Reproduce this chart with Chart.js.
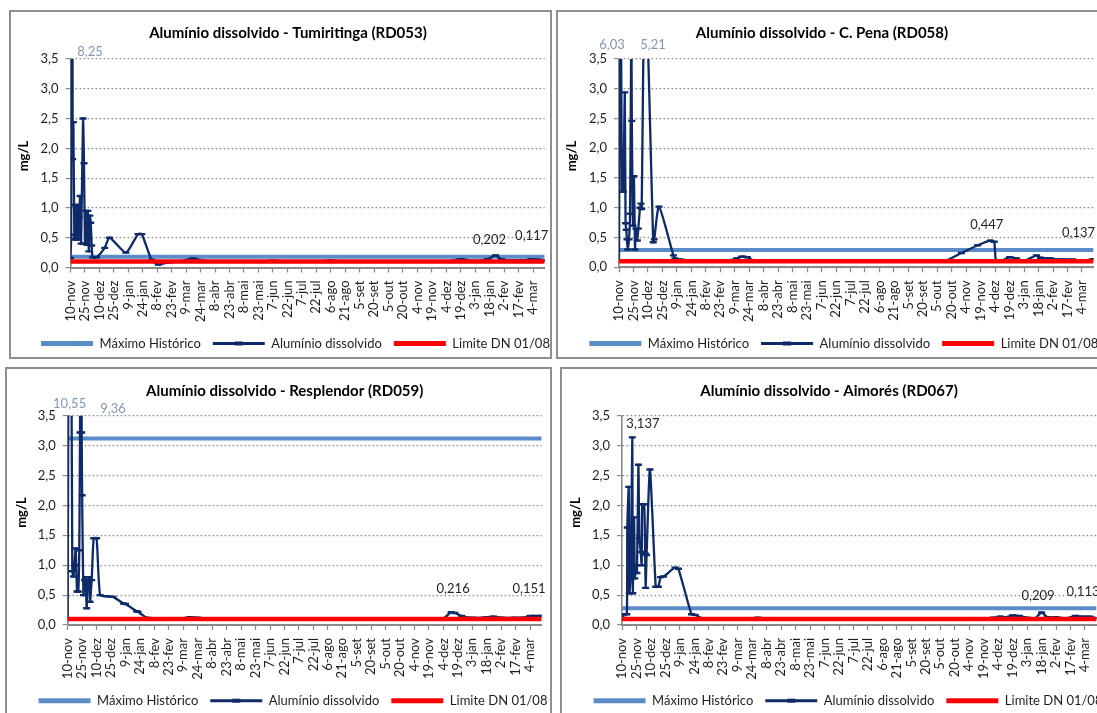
<!DOCTYPE html>
<html><head><meta charset="utf-8">
<script src="https://cdn.jsdelivr.net/npm/chart.js@4.4.1/dist/chart.umd.min.js"></script>
<style>
html,body{margin:0;padding:0;background:#fff;}
body{width:1097px;height:713px;overflow:hidden;position:relative;}
.frame{position:absolute;border:2px solid #8f8f8f;box-sizing:border-box;}
canvas{position:absolute;}
</style></head><body>
<div class="frame" style="left:9px;top:10px;width:543px;height:349px"></div>
<div class="frame" style="left:556px;top:10px;width:560px;height:349px"></div>
<div class="frame" style="left:5px;top:367px;width:547px;height:360px"></div>
<div class="frame" style="left:560px;top:367px;width:560px;height:360px"></div>
<canvas id="c1"></canvas>
<canvas id="c2"></canvas>
<canvas id="c3"></canvas>
<canvas id="c4"></canvas>
<script>
// ---------- DATA (x = days since 10-nov-2015) ----------
const tickLabels = ['10-nov','25-nov','10-dez','25-dez','9-jan','24-jan','8-fev','23-fev','9-mar','24-mar','8-abr','23-abr','8-mai','23-mai','7-jun','22-jun','7-jul','22-jul','6-ago','21-ago','5-set','20-set','5-out','20-out','4-nov','19-nov','4-dez','19-dez','3-jan','18-jan','2-fev','17-fev','4-mar'];
const tickDays = [0,15,30,45,60,75,90,105,120,135,150,165,180,195,210,225,240,255,270,285,300,315,330,345,360,375,390,405,420,435,450,465,480];
const axisEndDay = 492;
const limiteDN = 0.1;
const yAxisTitle = 'mg/L';

const tumTitle = 'Alumínio dissolvido - Tumiritinga (RD053)';
const tumMax = 0.18;
const tumDays = [0,0.7,1.5,2.3,3,4,5,6,7,8,9,10,11,13,14,15,16,17,18,19,20,21,22,23,27,35.5,40.5,57.5,70,74,84,91,100,112,127,140,155,170,185,200,210,225,240,255,270,285,300,315,330,345,360,375,390,405,420,433,441,447,455,462,470,478,485,492];
const tumVals = [0.16,0.55,8.25,1.82,2.44,0.47,1.05,0.5,1.05,0.47,0.85,1.2,0.4,2.5,1.75,0.4,0.95,0.38,0.95,0.27,0.87,0.75,0.37,0.17,0.17,0.33,0.5,0.25,0.56,0.56,0.13,0.05,0.08,0.1,0.15,0.11,0.1,0.1,0.1,0.1,0.12,0.1,0.1,0.1,0.12,0.1,0.1,0.1,0.1,0.1,0.1,0.1,0.1,0.14,0.11,0.14,0.202,0.14,0.12,0.12,0.12,0.14,0.13,0.117];

const penaTitle = 'Alumínio dissolvido - C. Pena (RD058)';
const penaMax = 0.29;
const penaDays = [0,1.5,3,4.5,6,6.8,7.5,8.2,9,10.4,11.5,12.8,13.3,14.5,15.5,16.6,17.5,19,20,21.8,22.8,23.5,27,35.5,36.5,41.5,56.4,58,63,72,85,100,115,122,127,133,140,155,170,185,200,215,230,245,260,275,290,305,320,337,355,372,385,389,391,398,405,412,420,433,437,441,447,455,462,470,477,484,492];
const penaVals = [0.1,6.03,1.27,1.27,2.94,0.74,0.63,0.47,0.3,0.47,0.9,4.2,2.46,0.7,1.53,0.3,0.65,0.45,0.65,1.0,1.07,0.98,5.21,0.42,0.47,1.02,0.2,0.15,0.13,0.12,0.1,0.1,0.12,0.15,0.18,0.17,0.11,0.1,0.1,0.1,0.1,0.1,0.1,0.1,0.1,0.1,0.1,0.1,0.1,0.1,0.24,0.37,0.447,0.43,0.11,0.12,0.17,0.15,0.11,0.2,0.16,0.15,0.15,0.13,0.13,0.13,0.12,0.12,0.137];

const respTitle = 'Alumínio dissolvido - Resplendor (RD059)';
const respMax = 3.12;
const respDays = [0,2,4.8,6,7,8.3,9.7,11,12,12.8,13.8,14.5,15,16.3,17.5,18.5,19.7,21,22.5,23.2,24.9,27,30,33.6,40.5,47,57.8,60,71.6,73,82,90,100,115,127,135,150,170,190,210,230,250,270,290,310,330,340,360,380,390,398,402,409,420,435,442,450,464,472,480,486,492];
const respVals = [0.1,10.55,0.9,0.81,1.0,1.28,0.56,0.56,1.25,3.22,9.36,3.22,2.17,0.5,0.75,0.8,0.28,0.75,0.8,0.39,0.75,1.45,1.45,0.5,0.48,0.47,0.36,0.35,0.23,0.22,0.12,0.1,0.1,0.1,0.13,0.12,0.1,0.1,0.1,0.1,0.1,0.1,0.1,0.1,0.1,0.11,0.1,0.1,0.1,0.11,0.216,0.2,0.15,0.12,0.13,0.14,0.12,0.12,0.12,0.15,0.15,0.151];

const aimTitle = 'Alumínio dissolvido - Aimorés (RD067)';
const aimMax = 0.28;
const aimDays = [0,2,5,5.5,7,7.6,9,10.7,11.2,12.5,13.3,14.5,15.5,17,18,19.4,20.4,21,23,24,24.5,25.5,29,35,37.7,40,43,55,58.5,72,75.8,85,100,120,141,160,190,220,250,280,310,340,370,385,392,398,405,412,420,428,435,441,450,460,470,478,485,492];
const aimVals = [0.12,0.18,0.18,1.63,2.31,0.53,0.82,3.137,0.53,1.8,0.78,1.0,0.87,2.68,1.45,1.22,1.0,2.02,2.02,1.2,0.62,1.17,2.6,0.64,0.64,0.8,0.81,0.96,0.94,0.18,0.17,0.1,0.1,0.1,0.12,0.1,0.1,0.1,0.1,0.1,0.1,0.11,0.1,0.12,0.14,0.13,0.16,0.15,0.12,0.11,0.209,0.13,0.13,0.11,0.15,0.14,0.14,0.113];

const legendNames = ['Máximo Histórico','Alumínio dissolvido','Limite DN 01/08'];

// labelled points (by day) – offsets are styling
const tumLabelDays = [1.5, 441, 492];
const penaLabelDays = [1.5, 27, 385, 492];
const respLabelDays = [2, 13.8, 398, 492];
const aimLabelDays = [10.7, 435, 492];

// ---------- STYLE ----------
const FONT = 'Lato, "Open Sans", sans-serif';
const C_MAX = '#5b8cc8', C_AL = '#0e2a68', C_LIM = '#ff0000';
const GRID = '#8a8a8a';
const TXT = '#1e1e1e';
const TITLE_SIZE = 15, TICK_SIZE = 13;
const LEG_PAD = 12, LEG_BOX = 52, LEG_FONT = 13;

const layouts = {
  c1: {left:12, top:12, width:545, plotLeft:70.5, plotTop:59, plotBottom:267.5, titleX:288, titleY:33, legendX:295.5, legendY:343.5, yTitleX:23.5, yTitleY:156,
       labelOffsets:[[18,-7],[-6,-15.5],[-13,-25]]},
  c2: {left:559, top:12, width:547, plotLeft:619, plotTop:59, plotBottom:267.3, titleX:822, titleY:33, legendX:843.8, legendY:343.5, yTitleX:571.6, yTitleY:156,
       labelOffsets:[[-8.5,-14],[8,-14],[-3.5,-15.7],[-15,-26.4]]},
  c3: {left:8, top:369, width:546, plotLeft:67.7, plotTop:415.7, plotBottom:625, titleX:284.7, titleY:391.3, legendX:293, legendY:700.7, yTitleX:21.7, yTitleY:512.5,
       labelOffsets:[[0,-11.7],[32,-7],[2,-23],[-12.7,-26.7]]},
  c4: {left:563, top:369, width:546, plotLeft:622, plotTop:415.7, plotBottom:625, titleX:829, titleY:391, legendX:848, legendY:700.7, yTitleX:576, yTitleY:512.5,
       labelOffsets:[[10.6,-13.4],[-3.6,-16.5],[-13.6,-26.6]]}
};

const fmt = v => String(v).replace('.', ',');

const shiftPlugin = {
  id: 'shiftBoxes',
  afterLayout(chart, args, o) {
    const shift = (b, cx) => { if (!b) return; const dx = cx - o.left - (b.left + b.right) / 2; b.left += dx; b.right += dx; };
    shift(chart.titleBlock, o.titleX);
    shift(chart.legend, o.legendX);
  },
  afterDraw(chart, args, o) {
    const ctx = chart.ctx;
    // y axis title (Excel places it slightly above the plot centre)
    ctx.save();
    ctx.translate(o.yTitleX - o.left, o.yTitleY - o.top);
    ctx.rotate(-Math.PI / 2);
    ctx.font = 'bold 13px ' + FONT;
    ctx.fillStyle = '#000';
    ctx.textAlign = 'center';
    ctx.textBaseline = 'middle';
    ctx.fillText(o.yTitle, 0, 0);
    ctx.restore();
    // dash marker in the middle of the "Alumínio dissolvido" legend line
    const lg = chart.legend;
    if (lg && lg.lineWidths) {
      ctx.save();
      ctx.font = LEG_FONT + 'px ' + FONT;
      const x0 = (lg.left + LEG_PAD + lg.right - lg.lineWidths[0]) / 2;
      const w1 = LEG_BOX + LEG_FONT / 2 + ctx.measureText(legendNames[0]).width + LEG_PAD;
      const cx = x0 + w1 + LEG_BOX / 2;
      const cy = lg.top + LEG_PAD + LEG_FONT / 2;
      ctx.fillStyle = C_AL;
      ctx.fillRect(cx - 4, cy - 2, 8, 4);
      ctx.restore();
    }
  }
};

const labelPlugin = {
  id: 'pointLabels',
  afterDatasetsDraw(chart, args, o) {
    const ds = chart.data.datasets[1];
    const meta = chart.getDatasetMeta(1);
    const ctx = chart.ctx, area = chart.chartArea, yMax = chart.scales.y.max;
    ctx.save();
    ctx.font = '13px ' + FONT;
    ctx.textAlign = 'center';
    ctx.textBaseline = 'middle';
    o.days.forEach((d, k) => {
      const idx = ds.data.findIndex(p => p.x === d);
      if (idx < 0) return;
      const el = meta.data[idx];
      const v = ds.data[idx].y;
      const over = v > yMax;
      const off = o.offsets[k];
      ctx.fillStyle = over ? '#8497b0' : '#262626';
      ctx.fillText(fmt(v), el.x + off[0], (over ? area.top : el.y) + off[1]);
    });
    ctx.restore();
  }
};

function makeChart(id, title, maxVal, days, vals, labelDays) {
  const L = layouts[id];
  const lhT = TITLE_SIZE * 1.2;
  const itemH = LEG_FONT;
  const legendTop = L.legendY - LEG_PAD - itemH / 2;
  const exactH = legendTop + itemH + LEG_PAD + 10 - L.top;
  const H = Math.ceil(exactH);
  const cv = document.getElementById(id);
  cv.width = L.width; cv.height = H;
  cv.style.left = L.left + 'px'; cv.style.top = L.top + 'px';
  const titlePadTop = L.titleY - L.top - lhT / 2;
  const titlePadBottom = L.plotTop - L.top - titlePadTop - lhT;
  const xH = legendTop - L.plotBottom;
  const yW = L.plotLeft - L.left;
  const plotRight = L.plotLeft + axisEndDay * 0.9645;
  const padR = L.left + L.width - plotRight;

  new Chart(cv, {
    type: 'line',
    data: {
      datasets: [
        {label: legendNames[0], data: [{x:0, y:maxVal}, {x:axisEndDay, y:maxVal}], borderColor: C_MAX, backgroundColor: C_MAX, borderWidth: 4, pointRadius: 0, order: 2, legendLW: 5},
        {label: legendNames[1], data: days.map((d, i) => ({x: d, y: vals[i]})), borderColor: C_AL, backgroundColor: C_AL, borderWidth: 2.3, tension: 0.2,
         pointStyle: 'line', pointRadius: 3.5, pointBorderWidth: 2.4, pointBorderColor: C_AL, pointHoverRadius: 3.5, order: 1, legendLW: 3},
        {label: legendNames[2], data: [{x:0, y:limiteDN}, {x:axisEndDay, y:limiteDN}], borderColor: C_LIM, backgroundColor: C_LIM, borderWidth: 4.5, pointRadius: 0, order: 0, legendLW: 5}
      ]
    },
    options: {
      responsive: false, animation: false, events: [],
      layout: {padding: {left: 0, right: padR, top: 0, bottom: H - exactH}},
      plugins: {
        title: {display: true, text: title, color: '#000', font: {family: FONT, size: TITLE_SIZE, weight: 'bold', lineHeight: 1.2}, padding: {top: titlePadTop, bottom: titlePadBottom}},
        legend: {display: true, position: 'bottom',
          labels: {usePointStyle: true, pointStyleWidth: LEG_BOX, padding: LEG_PAD, color: TXT, font: {family: FONT, size: LEG_FONT},
            sort: (a, b) => a.datasetIndex - b.datasetIndex,
            generateLabels: chart => chart.data.datasets.map((ds, i) => ({text: ds.label, fillStyle: ds.borderColor, strokeStyle: ds.borderColor, lineWidth: ds.legendLW, pointStyle: 'line', hidden: false, datasetIndex: i, fontColor: TXT}))}},
        tooltip: {enabled: false},
        shiftBoxes: {left: L.left, top: L.top, titleX: L.titleX, legendX: L.legendX, yTitleX: L.yTitleX, yTitleY: L.yTitleY, yTitle: yAxisTitle},
        pointLabels: {days: labelDays, offsets: L.labelOffsets}
      },
      scales: {
        x: {type: 'linear', min: 0, max: axisEndDay,
          afterBuildTicks: s => { s.ticks = tickDays.map(v => ({value: v})); },
          afterFit: s => { s.height = xH; },
          ticks: {autoSkip: false, maxRotation: 90, minRotation: 90, padding: 8, color: TXT, font: {family: FONT, size: TICK_SIZE},
            callback: v => tickLabels[tickDays.indexOf(v)]},
          grid: {drawOnChartArea: false, drawTicks: true, tickLength: 5, tickColor: GRID, tickWidth: 1.3},
          border: {display: true, color: GRID, width: 2}
        },
        y: {min: 0, max: 3.5,
          afterFit: s => { s.width = yW; },
          ticks: {stepSize: 0.5, padding: 7, color: TXT, font: {family: FONT, size: TICK_SIZE}, callback: v => v.toFixed(1).replace('.', ',')},
          grid: {color: GRID, lineWidth: 1.2, drawTicks: true, tickLength: 5, tickColor: GRID, tickWidth: 1.2, tickBorderDash: []},
          border: {display: true, color: GRID, width: 1.6, dash: [1.6, 2.4]},
          title: {display: false}
        }
      }
    },
    plugins: [shiftPlugin, labelPlugin]
  });
}

makeChart('c1', tumTitle, tumMax, tumDays, tumVals, tumLabelDays);
makeChart('c2', penaTitle, penaMax, penaDays, penaVals, penaLabelDays);
makeChart('c3', respTitle, respMax, respDays, respVals, respLabelDays);
makeChart('c4', aimTitle, aimMax, aimDays, aimVals, aimLabelDays);
</script>
</body></html>
